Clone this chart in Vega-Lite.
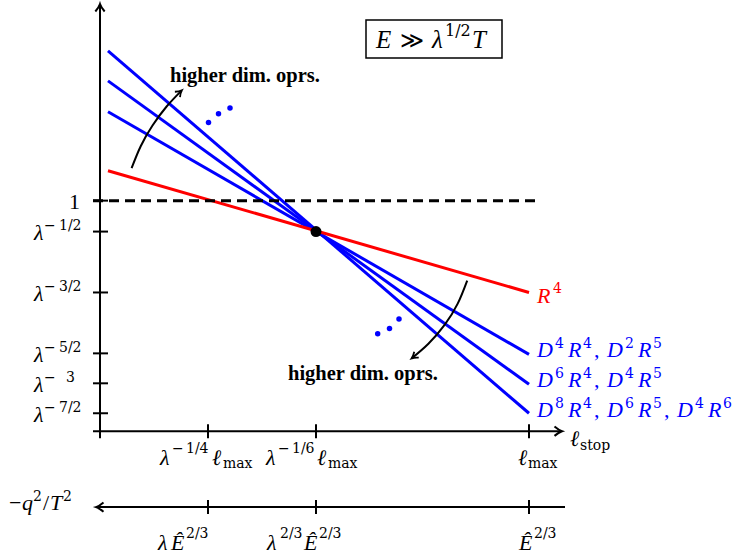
{
  "$schema": "https://vega.github.io/schema/vega-lite/v6.json",
  "width": 740,
  "height": 554,
  "autosize": {"type": "fit", "contains": "padding"},
  "padding": 0,
  "background": "white",
  "config": {"view": {"stroke": null}},
  "datasets": {
    "lines": [
      {"x": 108, "y": 50, "x2": 529, "y2": 413, "g": "b"},
      {"x": 108, "y": 80, "x2": 529, "y2": 384, "g": "b"},
      {"x": 108, "y": 111, "x2": 529, "y2": 354, "g": "b"},
      {"x": 108, "y": 170, "x2": 529, "y2": 292, "g": "r"}
    ],
    "dash": [{"x": 93, "y": 200, "x2": 536, "y2": 200}],
    "ax": [
      {"x": 100, "y": 438, "x2": 100, "y2": 4},
      {"x": 93, "y": 431, "x2": 561, "y2": 431},
      {"x": 97, "y": 507, "x2": 565, "y2": 507},
      {"x": 93, "y": 200, "x2": 108, "y2": 200},
      {"x": 93, "y": 231, "x2": 108, "y2": 231},
      {"x": 93, "y": 292, "x2": 108, "y2": 292},
      {"x": 93, "y": 353, "x2": 108, "y2": 353},
      {"x": 93, "y": 383, "x2": 108, "y2": 383},
      {"x": 93, "y": 413, "x2": 108, "y2": 413},
      {"x": 208, "y": 424, "x2": 208, "y2": 438},
      {"x": 316, "y": 424, "x2": 316, "y2": 438},
      {"x": 529, "y": 424, "x2": 529, "y2": 438},
      {"x": 208, "y": 500, "x2": 208, "y2": 514},
      {"x": 316, "y": 500, "x2": 316, "y2": 514},
      {"x": 529, "y": 500, "x2": 529, "y2": 514}
    ],
    "arcs": [
      {"x": 131.6, "y": 167.5, "s": "up", "o": 1},
      {"x": 140.7, "y": 145.5, "s": "up", "o": 2},
      {"x": 152.5, "y": 124.8, "s": "up", "o": 3},
      {"x": 166.6, "y": 105.7, "s": "up", "o": 4},
      {"x": 181.8, "y": 89.5, "s": "up", "o": 5},
      {"x": 467.2, "y": 280.1, "s": "down", "o": 1},
      {"x": 457.7, "y": 303.2, "s": "down", "o": 2},
      {"x": 444.6, "y": 324.5, "s": "down", "o": 3},
      {"x": 428.4, "y": 343.4, "s": "down", "o": 4},
      {"x": 411.7, "y": 358.0, "s": "down", "o": 5}
    ],
    "heads1": [
      {"x": 100, "y": 3, "a": -90},
      {"x": 562, "y": 431, "a": 0},
      {"x": 96, "y": 507, "a": 180}
    ],
    "heads2": [
      {"x": 181.8, "y": 89.5, "a": -43.5},
      {"x": 411.7, "y": 358.0, "a": 143}
    ],
    "center": [{"x": 316, "y": 231}],
    "bdots": [
      {"x": 208.5, "y": 121.7}, {"x": 218.5, "y": 113}, {"x": 230, "y": 107.3},
      {"x": 377.7, "y": 333.3}, {"x": 389.5, "y": 328}, {"x": 399, "y": 318.5}
    ],
    "box": [{"x": 366, "y": 19, "x2": 502, "y2": 57}],
    "it": [
      {"x": 34, "y": 239.5, "t": "λ", "g": "k"},
      {"x": 34, "y": 300.5, "t": "λ", "g": "k"},
      {"x": 34, "y": 361.5, "t": "λ", "g": "k"},
      {"x": 34, "y": 391.5, "t": "λ", "g": "k"},
      {"x": 34, "y": 421.5, "t": "λ", "g": "k"},
      {"x": 160, "y": 465, "t": "λ", "g": "k"},
      {"x": 212, "y": 465, "t": "ℓ", "g": "k"},
      {"x": 266, "y": 465, "t": "λ", "g": "k"},
      {"x": 317, "y": 465, "t": "ℓ", "g": "k"},
      {"x": 518, "y": 465, "t": "ℓ", "g": "k"},
      {"x": 570, "y": 446, "t": "ℓ", "g": "k"},
      {"x": 158, "y": 550, "t": "λ", "g": "k"},
      {"x": 171, "y": 550, "t": "Ê", "g": "k"},
      {"x": 267, "y": 550, "t": "λ", "g": "k"},
      {"x": 304, "y": 550, "t": "Ê", "g": "k"},
      {"x": 519, "y": 550, "t": "Ê", "g": "k"},
      {"x": 22, "y": 510, "t": "q", "g": "k"},
      {"x": 50, "y": 510, "t": "T", "g": "k"},
      {"x": 537, "y": 303, "t": "R", "g": "r"},
      {"x": 537, "y": 357, "t": "D", "g": "b"},
      {"x": 568, "y": 357, "t": "R", "g": "b"},
      {"x": 607, "y": 357, "t": "D", "g": "b"},
      {"x": 638, "y": 357, "t": "R", "g": "b"},
      {"x": 537, "y": 387, "t": "D", "g": "b"},
      {"x": 568, "y": 387, "t": "R", "g": "b"},
      {"x": 607, "y": 387, "t": "D", "g": "b"},
      {"x": 638, "y": 387, "t": "R", "g": "b"},
      {"x": 537, "y": 417, "t": "D", "g": "b"},
      {"x": 568, "y": 417, "t": "R", "g": "b"},
      {"x": 607, "y": 417, "t": "D", "g": "b"},
      {"x": 638, "y": 417, "t": "R", "g": "b"},
      {"x": 677, "y": 417, "t": "D", "g": "b"},
      {"x": 708, "y": 417, "t": "R", "g": "b"}
    ],
    "rm": [
      {"x": 69, "y": 208, "t": "1", "g": "k"},
      {"x": 9, "y": 510, "t": "−", "g": "k"},
      {"x": 43, "y": 510, "t": "/", "g": "k"},
      {"x": 594, "y": 357, "t": ",", "g": "b"},
      {"x": 594, "y": 387, "t": ",", "g": "b"},
      {"x": 594, "y": 417, "t": ",", "g": "b"},
      {"x": 664, "y": 417, "t": ",", "g": "b"}
    ],
    "sup": [
      {"x": 44, "y": 229.5, "t": "−", "g": "k"},
      {"x": 59, "y": 229.5, "t": "1/2", "g": "k"},
      {"x": 44, "y": 290.5, "t": "−", "g": "k"},
      {"x": 59, "y": 290.5, "t": "3/2", "g": "k"},
      {"x": 44, "y": 351.5, "t": "−", "g": "k"},
      {"x": 59, "y": 351.5, "t": "5/2", "g": "k"},
      {"x": 44, "y": 381.5, "t": "−", "g": "k"},
      {"x": 66, "y": 381.5, "t": "3", "g": "k"},
      {"x": 44, "y": 411.5, "t": "−", "g": "k"},
      {"x": 59, "y": 411.5, "t": "7/2", "g": "k"},
      {"x": 172, "y": 453, "t": "−", "g": "k"},
      {"x": 186, "y": 453, "t": "1/4", "g": "k"},
      {"x": 278, "y": 453, "t": "−", "g": "k"},
      {"x": 292, "y": 453, "t": "1/6", "g": "k"},
      {"x": 186, "y": 538, "t": "2/3", "g": "k"},
      {"x": 280, "y": 538, "t": "2/3", "g": "k"},
      {"x": 319, "y": 538, "t": "2/3", "g": "k"},
      {"x": 534, "y": 538, "t": "2/3", "g": "k"},
      {"x": 33, "y": 501, "t": "2", "g": "k"},
      {"x": 63, "y": 501, "t": "2", "g": "k"},
      {"x": 553, "y": 293, "t": "4", "g": "r"},
      {"x": 555, "y": 348, "t": "4", "g": "b"},
      {"x": 583, "y": 348, "t": "4", "g": "b"},
      {"x": 625, "y": 348, "t": "2", "g": "b"},
      {"x": 653, "y": 348, "t": "5", "g": "b"},
      {"x": 555, "y": 378, "t": "6", "g": "b"},
      {"x": 583, "y": 378, "t": "4", "g": "b"},
      {"x": 625, "y": 378, "t": "4", "g": "b"},
      {"x": 653, "y": 378, "t": "5", "g": "b"},
      {"x": 555, "y": 408, "t": "8", "g": "b"},
      {"x": 583, "y": 408, "t": "4", "g": "b"},
      {"x": 625, "y": 408, "t": "6", "g": "b"},
      {"x": 653, "y": 408, "t": "5", "g": "b"},
      {"x": 695, "y": 408, "t": "4", "g": "b"},
      {"x": 723, "y": 408, "t": "6", "g": "b"}
    ],
    "sub": [
      {"x": 223, "y": 468, "t": "max", "g": "k"},
      {"x": 328, "y": 468, "t": "max", "g": "k"},
      {"x": 528, "y": 468, "t": "max", "g": "k"},
      {"x": 580, "y": 450, "t": "stop", "g": "k"}
    ],
    "bold": [
      {"x": 170, "y": 81, "t": "higher dim. oprs.", "g": "k"},
      {"x": 288, "y": 380, "t": "higher dim. oprs.", "g": "k"}
    ],
    "bit": [
      {"x": 376, "y": 47, "t": "E", "g": "k"},
      {"x": 432, "y": 47, "t": "λ", "g": "k"},
      {"x": 472, "y": 47, "t": "T", "g": "k"}
    ],
    "brm": [{"x": 400, "y": 47, "t": "≫", "g": "k"}],
    "bsup": [{"x": 445, "y": 35, "t": "1/2", "g": "k"}]
  },
  "encoding": {
    "x": {"field": "x", "type": "quantitative", "scale": {"domain": [0, 740], "nice": false, "zero": false}, "axis": null},
    "y": {"field": "y", "type": "quantitative", "scale": {"domain": [0, 554], "nice": false, "zero": false, "reverse": true}, "axis": null}
  },
  "layer": [
    {
      "data": {"name": "lines"},
      "mark": {"type": "rule", "strokeWidth": 3},
      "encoding": {
        "x2": {"field": "x2"}, "y2": {"field": "y2"},
        "color": {"field": "g", "type": "nominal", "scale": {"domain": ["k", "r", "b"], "range": ["#000000", "#ff0000", "#0000ff"]}, "legend": null}
      }
    },
    {
      "data": {"name": "dash"},
      "mark": {"type": "rule", "strokeWidth": 3, "strokeDash": [10, 6], "color": "black"},
      "encoding": {"x2": {"field": "x2"}, "y2": {"field": "y2"}}
    },
    {
      "data": {"name": "ax"},
      "mark": {"type": "rule", "strokeWidth": 2, "color": "black"},
      "encoding": {"x2": {"field": "x2"}, "y2": {"field": "y2"}}
    },
    {
      "data": {"name": "arcs"},
      "mark": {"type": "line", "interpolate": "natural", "strokeWidth": 2, "color": "black"},
      "encoding": {"detail": {"field": "s"}, "order": {"field": "o", "type": "quantitative"}}
    },
    {
      "data": {"name": "heads1"},
      "mark": {"type": "point", "shape": "M-1,-0.62Q-0.45,-0.15 0,0Q-0.45,0.15 -1,0.62", "filled": false, "size": 225, "strokeWidth": 2, "color": "black", "opacity": 1},
      "encoding": {"angle": {"field": "a", "type": "quantitative", "scale": null}}
    },
    {
      "data": {"name": "heads2"},
      "mark": {"type": "point", "shape": "M-1,-0.62Q-0.45,-0.15 0,0Q-0.45,0.15 -1,0.62", "filled": false, "size": 144, "strokeWidth": 1.8, "color": "black", "opacity": 1},
      "encoding": {"angle": {"field": "a", "type": "quantitative", "scale": null}}
    },
    {
      "data": {"name": "center"},
      "mark": {"type": "point", "shape": "circle", "filled": true, "size": 120, "color": "black", "opacity": 1}
    },
    {
      "data": {"name": "bdots"},
      "mark": {"type": "point", "shape": "circle", "filled": true, "size": 30, "color": "#0000ff", "opacity": 1}
    },
    {
      "data": {"name": "box"},
      "mark": {"type": "rect", "fill": "white", "stroke": "black", "strokeWidth": 1.5},
      "encoding": {"x2": {"field": "x2"}, "y2": {"field": "y2"}}
    },
    {
      "data": {"name": "it"},
      "mark": {"type": "text", "font": "Liberation Serif", "fontStyle": "italic", "fontSize": 22, "align": "left", "baseline": "alphabetic"},
      "encoding": {"text": {"field": "t"}, "color": {"field": "g", "type": "nominal", "legend": null}}
    },
    {
      "data": {"name": "rm"},
      "mark": {"type": "text", "font": "Liberation Serif", "fontSize": 22, "align": "left", "baseline": "alphabetic"},
      "encoding": {"text": {"field": "t"}, "color": {"field": "g", "type": "nominal", "legend": null}}
    },
    {
      "data": {"name": "sup"},
      "mark": {"type": "text", "font": "DejaVu Serif", "fontSize": 14, "align": "left", "baseline": "alphabetic"},
      "encoding": {"text": {"field": "t"}, "color": {"field": "g", "type": "nominal", "legend": null}}
    },
    {
      "data": {"name": "sub"},
      "mark": {"type": "text", "font": "DejaVu Serif", "fontSize": 14, "align": "left", "baseline": "alphabetic"},
      "encoding": {"text": {"field": "t"}, "color": {"field": "g", "type": "nominal", "legend": null}}
    },
    {
      "data": {"name": "bold"},
      "mark": {"type": "text", "font": "Liberation Serif", "fontWeight": "bold", "fontSize": 20.5, "align": "left", "baseline": "alphabetic"},
      "encoding": {"text": {"field": "t"}, "color": {"field": "g", "type": "nominal", "legend": null}}
    },
    {
      "data": {"name": "bit"},
      "mark": {"type": "text", "font": "Liberation Serif", "fontStyle": "italic", "fontSize": 25, "align": "left", "baseline": "alphabetic"},
      "encoding": {"text": {"field": "t"}, "color": {"field": "g", "type": "nominal", "legend": null}}
    },
    {
      "data": {"name": "brm"},
      "mark": {"type": "text", "font": "DejaVu Serif", "fontSize": 23, "align": "left", "baseline": "alphabetic"},
      "encoding": {"text": {"field": "t"}, "color": {"field": "g", "type": "nominal", "legend": null}}
    },
    {
      "data": {"name": "bsup"},
      "mark": {"type": "text", "font": "DejaVu Serif", "fontSize": 16, "align": "left", "baseline": "alphabetic"},
      "encoding": {"text": {"field": "t"}, "color": {"field": "g", "type": "nominal", "legend": null}}
    }
  ]
}
